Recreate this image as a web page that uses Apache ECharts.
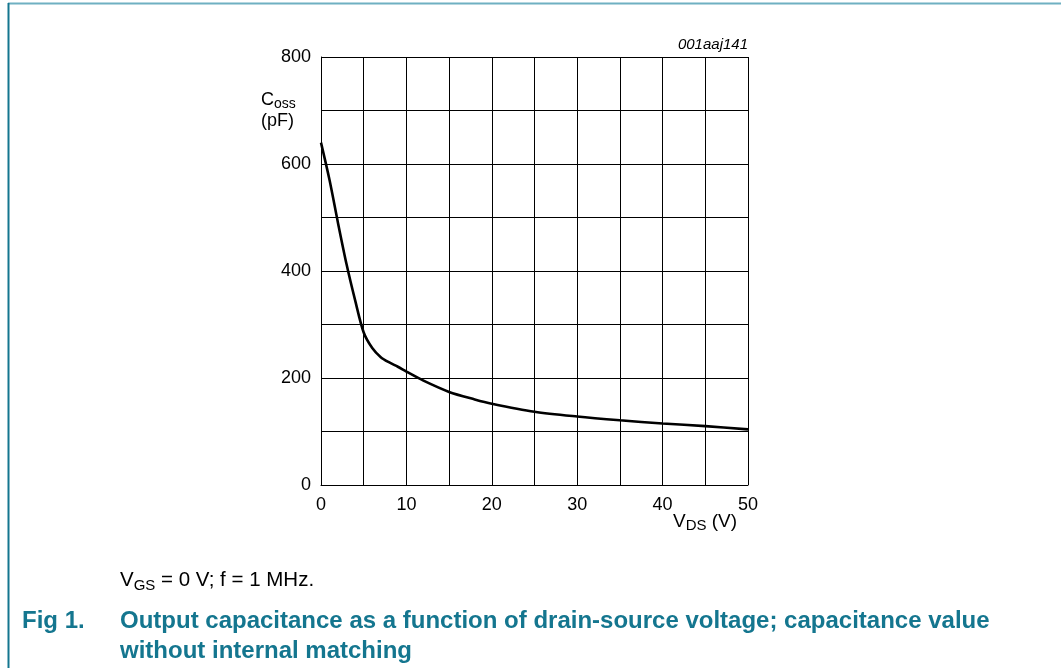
<!DOCTYPE html>
<html>
<head>
<meta charset="utf-8">
<script src="https://cdn.jsdelivr.net/npm/echarts@6/dist/echarts.min.js"></script>
<style>
  html, body { margin: 0; padding: 0; background: #fff; }
  #chart { width: 1061px; height: 668px; }
</style>
</head>
<body>
<div id="chart"></div>
<script>
// Coss vs VDS
const vds = [0, 1, 2, 3, 4, 5, 6, 7, 8, 9, 10, 12, 15, 18, 20, 25, 30, 35, 40, 45, 50]
const coss = [640, 570, 489, 412, 345, 285, 256, 239, 229, 221, 212, 195, 174, 160, 152, 137, 128, 121, 115, 110, 104]
const xTickLabels = ['0', '10', '20', '30', '40', '50']
const yTickLabels = ['0', '200', '400', '600', '800']

const font = 'Liberation Sans, Arial, sans-serif'
const teal = '#14768f'

const chart = echarts.init(document.getElementById('chart'))

chart.setOption({
  animation: false,
  textStyle: { fontFamily: font },
  grid: {
    left: 321,
    right: 313,
    top: 57,
    bottom: 183
  },
  xAxis: {
    type: 'value',
    min: 0,
    max: 50,
    interval: 5,
    axisLine: { show: true, lineStyle: { color: '#000', width: 1 } },
    axisTick: { show: false },
    splitLine: { show: true, lineStyle: { color: '#000', width: 1 } },
    axisLabel: {
      color: '#000',
      fontSize: 18,
      margin: 11,
      formatter: v => xTickLabels.includes(String(v)) ? String(v) : ''
    }
  },
  yAxis: {
    type: 'value',
    min: 0,
    max: 800,
    interval: 100,
    axisLine: { show: true, lineStyle: { color: '#000', width: 1 } },
    axisTick: { show: false },
    splitLine: { show: true, lineStyle: { color: '#000', width: 1 } },
    axisLabel: {
      color: '#000',
      fontSize: 18,
      margin: 10,
      formatter: v => yTickLabels.includes(String(v)) ? String(v) : ''
    }
  },
  series: [{
    type: 'line',
    data: vds.map((v, i) => [v, coss[i]]),
    smooth: 0.3,
    showSymbol: false,
    lineStyle: { color: '#000', width: 2.6 }
  }],
  graphic: [
    // frame
    { type: 'line', shape: { x1: 8, y1: 3.5, x2: 1061, y2: 3.5 }, style: { stroke: '#6fb0c2', lineWidth: 2 } },
    { type: 'line', shape: { x1: 8.5, y1: 3, x2: 8.5, y2: 668 }, style: { stroke: teal, lineWidth: 2 } },
    // figure id
    {
      type: 'text', right: 313, top: 37,
      style: { text: '001aaj141', font: 'italic 15px ' + font, fill: '#000' }
    },
    // y axis title
    {
      type: 'text', left: 261, top: 89,
      style: {
        text: '{b|C}{s|oss}\n{b|(pF)}',
        rich: {
          b: { fontSize: 18, fontFamily: font, fill: '#000', lineHeight: 21 },
          s: { fontSize: 14, fontFamily: font, fill: '#000', padding: [8, 0, 0, 0], lineHeight: 21 }
        }
      }
    },
    // x axis title
    {
      type: 'text', left: 673, top: 512,
      style: {
        text: '{b|V}{s|DS}{b| (V)}',
        rich: {
          b: { fontSize: 19, fontFamily: font, fill: '#000' },
          s: { fontSize: 15, fontFamily: font, fill: '#000', padding: [9, 0, 0, 0] }
        }
      }
    },
    // condition
    {
      type: 'text', left: 120, top: 570,
      style: {
        text: '{b|V}{s|GS}{b| = 0 V; f = 1 MHz.}',
        rich: {
          b: { fontSize: 20.5, fontFamily: font, fill: '#000' },
          s: { fontSize: 15, fontFamily: font, fill: '#000', padding: [10, 0, 0, 0] }
        }
      }
    },
    // caption
    {
      type: 'text', left: 22, top: 606,
      style: { text: 'Fig 1.', font: 'bold 24px ' + font, fill: teal, lineHeight: 30 }
    },
    {
      type: 'text', left: 120, top: 606,
      style: {
        text: 'Output capacitance as a function of drain-source voltage; capacitance value\nwithout internal matching',
        font: 'bold 24px ' + font,
        fill: teal,
        lineHeight: 30
      }
    }
  ]
})
</script>
</body>
</html>
